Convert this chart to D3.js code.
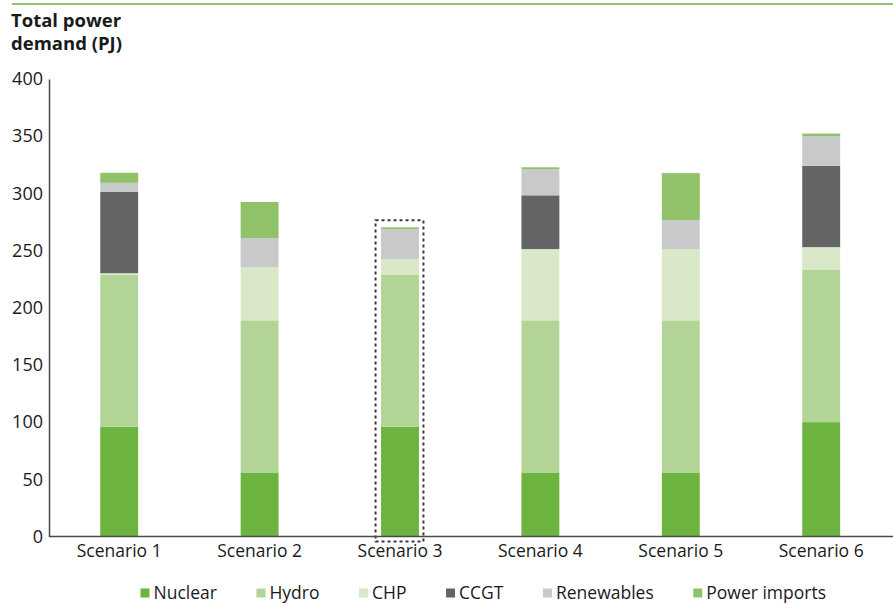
<!DOCTYPE html>
<html>
<head>
<meta charset="utf-8">
<script src="https://cdn.jsdelivr.net/npm/d3@7/dist/d3.min.js"></script>
<style>
  html, body { margin: 0; padding: 0; background: #fff; }
  svg { display: block; }
  text { font-family: "Open Sans", "Noto Sans", sans-serif; fill: #1a1a1a; }
</style>
</head>
<body>
<script>
const scenarios = ["Scenario 1", "Scenario 2", "Scenario 3", "Scenario 4", "Scenario 5", "Scenario 6"];
const nuclear    = [96, 56, 96, 56, 56, 100];
const hydro      = [133, 133, 133, 133, 133, 133];
const chp        = [1.2, 46.5, 13.6, 62.3, 62.3, 20];
const ccgt       = [71, 0, 0, 47, 0, 71];
const renewables = [8, 25.5, 26, 22.7, 25.4, 26];
const imports    = [8.8, 31.5, 1.7, 1.8, 41, 2.3];
const seriesNames = ["Nuclear", "Hydro", "CHP", "CCGT", "Renewables", "Power imports"];
const yTicks = [0, 50, 100, 150, 200, 250, 300, 350, 400];
const titleLines = ["Total power", "demand (PJ)"];
const highlighted = "Scenario 3";

const colors = ["#6db33f", "#b2d597", "#d8e8c8", "#636466", "#c8c9cb", "#90c26a"];
const seriesValues = [nuclear, hydro, chp, ccgt, renewables, imports];

const W = 893, H = 603;
const svg = d3.select("body").append("svg").attr("width", W).attr("height", H);

// top rule
svg.append("line").attr("x1", 12).attr("x2", W).attr("y1", 4).attr("y2", 4)
  .attr("stroke", "#8cc66a").attr("stroke-width", 2);

// title (two separate lines)
titleLines.forEach((t, i) => {
  svg.append("text").attr("x", 11).attr("y", 27 + i * 23)
    .style("font-weight", "700").style("font-size", "18.5px").text(t);
});

const x0 = 49, yBottom = 536.5, yTop = 79;
const x = d3.scaleBand().domain(scenarios).range([x0, 891.4])
  .paddingInner(0.73).paddingOuter(0.365);
const y = d3.scaleLinear().domain([0, 400]).range([yBottom, yTop]);

// stacked data
const rows = scenarios.map((s, i) => {
  const r = { scenario: s };
  seriesNames.forEach((n, k) => r[n] = seriesValues[k][i]);
  return r;
});
const stack = d3.stack().keys(seriesNames)(rows);

svg.append("g").selectAll("g").data(stack).join("g")
  .attr("fill", (d, i) => colors[i])
  .selectAll("rect").data(d => d).join("rect")
  .attr("x", d => x(d.data.scenario))
  .attr("width", x.bandwidth())
  .attr("y", d => y(d[1]))
  .attr("height", d => Math.max(0, y(d[0]) - y(d[1])));

// highlight box
const hTotal = d3.sum(seriesValues, s => s[scenarios.indexOf(highlighted)]);
svg.append("rect")
  .attr("x", x(highlighted) - 5.5)
  .attr("width", x.bandwidth() + 10)
  .attr("y", y(hTotal) - 7)
  .attr("height", (yBottom + 5) - (y(hTotal) - 7))
  .attr("fill", "none").attr("stroke", "#3a3a3a")
  .attr("stroke-width", 2).attr("stroke-dasharray", "3,3");

// y axis
const yAxis = d3.axisLeft(y).tickValues(yTicks).tickSize(0).tickPadding(6);
const gy = svg.append("g").attr("transform", `translate(${x0},0)`).call(yAxis);
gy.select(".domain").attr("stroke", "#4a4a4a").attr("stroke-width", 1.5);
gy.selectAll("text").style("font-size", "18px").attr("fill", "#1a1a1a")
  .style("font-family", "'Open Sans', sans-serif");

// x axis
const xAxis = d3.axisBottom(x).tickSize(0).tickPadding(8);
const gx = svg.append("g").attr("transform", `translate(0,${yBottom})`).call(xAxis);
gx.select(".domain").attr("d", `M${x0},0H${W}`).attr("stroke", "#4a4a4a").attr("stroke-width", 1.5);
gx.selectAll("text").style("font-size", "17.5px").attr("fill", "#1a1a1a")
  .style("font-family", "'Open Sans', sans-serif");

// legend: spread between left and right extents
const legLeft = 140.5, legRight = 826, ly = 593;
const leg = svg.append("g");
const items = seriesNames.map((n, i) => {
  const g = leg.append("g");
  g.append("rect").attr("x", 0).attr("y", ly - 4.5).attr("width", 9).attr("height", 9)
    .attr("fill", colors[i]);
  const t = g.append("text").attr("x", 13).attr("y", ly).attr("dy", "0.35em")
    .style("font-size", "17.5px").text(n);
  return { g, w: 13 + t.node().getComputedTextLength() };
});
const totalW = d3.sum(items, d => d.w);
const gap = (legRight - legLeft - totalW) / (items.length - 1);
let lx = legLeft;
items.forEach(it => { it.g.attr("transform", `translate(${lx},0)`); lx += it.w + gap; });
</script>
</body>
</html>
